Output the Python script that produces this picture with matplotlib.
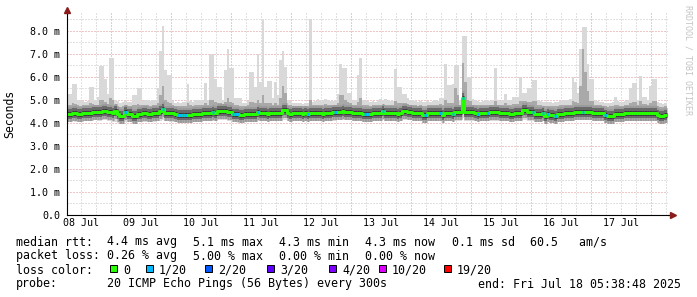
import numpy as np
import matplotlib
matplotlib.use("Agg")
import matplotlib.pyplot as plt
from matplotlib.patches import Rectangle

# hourly smokeping data, first bin starts 08 Jul ~06:15 (x axis in days of July)
start_day = 8.262
end_day = 18.284

# median rtt per hour (ms)
median_ms = [
    4.39, 4.39, 4.42, 4.42, 4.38, 4.38, 4.43, 4.43, 4.45, 4.45, 4.48, 4.48, 4.48, 4.48, 4.53, 4.53, 4.48, 4.48, 4.42, 4.53, 4.38, 4.30, 4.30, 4.48,
    4.40, 4.40, 4.32, 4.32, 4.38, 4.38, 4.42, 4.42, 4.38, 4.38, 4.42, 4.42, 4.45, 4.50, 4.60, 4.45, 4.45, 4.42, 4.42, 4.38, 4.36, 4.36, 4.36, 4.36,
    4.36, 4.36, 4.38, 4.38, 4.40, 4.40, 4.42, 4.42, 4.43, 4.43, 4.46, 4.45, 4.50, 4.50, 4.50, 4.52, 4.48, 4.48, 4.40, 4.40, 4.37, 4.35, 4.35, 4.40,
    4.40, 4.37, 4.37, 4.40, 4.46, 4.42, 4.44, 4.42, 4.40, 4.42, 4.44, 4.42, 4.42, 4.45, 4.57, 4.57, 4.42, 4.40, 4.42, 4.42, 4.44, 4.42, 4.40, 4.42,
    4.38, 4.42, 4.42, 4.44, 4.42, 4.42, 4.40, 4.42, 4.45, 4.45, 4.47, 4.46, 4.49, 4.49, 4.50, 4.49, 4.48, 4.49, 4.42, 4.42, 4.43, 4.42, 4.39, 4.38,
    4.38, 4.39, 4.42, 4.42, 4.44, 4.42, 4.52, 4.45, 4.44, 4.42, 4.42, 4.42, 4.40, 4.42, 4.53, 4.53, 4.49, 4.49, 4.42, 4.42, 4.42, 4.42, 4.35, 4.35,
    4.42, 4.42, 4.42, 4.42, 4.42, 4.44, 4.35, 4.42, 4.42, 4.42, 4.38, 4.46, 4.46, 4.46, 5.07, 4.46, 4.46, 4.46, 4.46, 4.42, 4.39, 4.42, 4.42, 4.42,
    4.44, 4.46, 4.46, 4.46, 4.46, 4.42, 4.44, 4.44, 4.44, 4.39, 4.39, 4.44, 4.44, 4.44, 4.57, 4.57, 4.46, 4.46, 4.46, 4.39, 4.39, 4.39, 4.42, 4.30,
    4.39, 4.35, 4.35, 4.30, 4.39, 4.39, 4.39, 4.44, 4.44, 4.42, 4.42, 4.49, 4.49, 4.49, 4.49, 4.49, 4.49, 4.49, 4.45, 4.45, 4.45, 4.45, 4.42, 4.35,
    4.30, 4.30, 4.30, 4.39, 4.39, 4.39, 4.39, 4.42, 4.42, 4.42, 4.45, 4.45, 4.45, 4.45, 4.45, 4.45, 4.45, 4.45, 4.42, 4.42, 4.35, 4.30, 4.30, 4.35,
]

# lost pings (out of 20) per hour
loss = [
    0, 0, 0, 0, 0, 0, 0, 0, 0, 0, 0, 0, 0, 0, 0, 0, 0, 0, 0, 0, 0, 0, 0, 1,
    0, 0, 0, 0, 0, 0, 0, 0, 0, 0, 0, 0, 0, 0, 1, 0, 0, 0, 0, 0, 1, 1, 1, 1,
    0, 0, 0, 0, 0, 0, 0, 0, 0, 0, 1, 0, 0, 0, 0, 0, 0, 0, 1, 1, 1, 0, 0, 0,
    0, 0, 0, 0, 1, 0, 0, 0, 0, 0, 0, 0, 0, 0, 0, 0, 0, 0, 0, 0, 0, 0, 0, 0,
    1, 0, 0, 0, 0, 0, 0, 0, 0, 0, 0, 1, 0, 0, 0, 0, 0, 0, 0, 0, 0, 0, 0, 1,
    1, 0, 0, 0, 0, 0, 1, 0, 0, 0, 0, 0, 0, 0, 0, 0, 0, 0, 0, 0, 0, 0, 0, 1,
    0, 0, 0, 0, 0, 1, 0, 0, 0, 0, 1, 0, 0, 0, 1, 0, 0, 0, 0, 0, 1, 0, 0, 0,
    1, 0, 0, 0, 0, 0, 0, 0, 0, 0, 0, 0, 0, 0, 0, 0, 0, 0, 1, 0, 0, 0, 1, 0,
    1, 0, 0, 1, 0, 0, 0, 0, 0, 0, 0, 0, 0, 0, 1, 0, 0, 0, 0, 0, 0, 0, 0, 1,
    0, 0, 0, 0, 0, 0, 0, 0, 0, 0, 0, 0, 0, 0, 0, 0, 0, 0, 0, 0, 0, 0, 0, 0,
]

# slowest ping per hour (ms) - top of the smoke
hi_ms = [
    5.26, 5.26, 5.70, 5.70, 5.00, 5.00, 4.95, 4.92, 4.95, 5.57, 5.57, 4.98, 5.15, 6.48, 6.48, 5.90, 5.26, 6.83, 6.83, 5.00, 4.95, 4.88, 4.90, 4.95,
    4.92, 4.90, 5.20, 5.20, 5.50, 5.50, 4.95, 5.02, 5.00, 4.95, 4.98, 5.00, 5.50, 7.13, 8.22, 6.30, 6.10, 6.10, 4.95, 4.85, 4.90, 4.88, 4.90, 4.92,
    5.70, 4.95, 4.92, 4.98, 5.02, 4.98, 5.00, 5.75, 5.02, 7.00, 7.00, 5.90, 5.55, 5.55, 5.00, 6.30, 7.20, 6.40, 6.40, 5.10, 5.10, 5.10, 4.87, 4.87,
    4.95, 6.20, 6.20, 5.55, 7.00, 5.80, 8.48, 5.55, 5.82, 5.82, 5.10, 5.80, 5.20, 6.74, 7.13, 6.43, 5.00, 4.95, 4.85, 4.85, 4.88, 4.85, 4.82, 4.85,
    4.85, 8.52, 4.90, 4.95, 5.05, 4.98, 5.00, 5.05, 5.02, 4.95, 4.95, 5.00, 5.26, 6.55, 6.40, 6.40, 5.30, 5.30, 4.95, 4.98, 6.10, 6.83, 5.00, 4.95,
    4.95, 4.90, 4.95, 4.92, 5.00, 5.05, 5.00, 5.05, 5.00, 4.95, 4.95, 6.35, 5.57, 5.57, 5.27, 5.27, 5.10, 4.98, 5.02, 4.95, 4.92, 4.95, 4.90, 4.92,
    4.95, 4.92, 4.95, 4.98, 4.95, 5.10, 5.10, 6.55, 5.65, 5.65, 5.70, 6.50, 6.50, 5.00, 7.80, 7.80, 6.00, 6.00, 5.05, 4.98, 4.95, 4.92, 4.95, 4.98,
    5.00, 4.95, 4.98, 6.38, 5.00, 4.95, 4.98, 5.28, 5.00, 4.98, 5.15, 5.15, 5.15, 6.00, 5.30, 5.30, 5.50, 5.50, 5.88, 5.88, 5.00, 4.95, 4.92, 4.90,
    4.92, 4.90, 4.88, 4.90, 4.92, 4.95, 4.98, 5.00, 4.98, 5.05, 6.00, 5.80, 5.30, 7.20, 8.17, 8.17, 6.55, 5.90, 5.90, 5.00, 4.95, 4.92, 4.90, 4.88,
    4.85, 4.88, 4.90, 5.15, 4.95, 4.92, 4.90, 4.95, 4.98, 5.50, 5.75, 5.75, 5.00, 6.05, 5.15, 5.15, 4.98, 5.60, 5.90, 5.90, 4.90, 4.85, 4.82, 4.85,
]

# upper edge of the denser smoke (ms)
p90_ms = [
    4.78, 4.80, 4.85, 4.82, 4.76, 4.75, 4.76, 4.78, 4.78, 4.85, 4.82, 4.80, 4.80, 5.00, 5.00, 4.90, 4.82, 5.10, 5.00, 4.80, 4.75, 4.70, 4.72, 4.80,
    4.74, 4.74, 4.80, 4.78, 4.82, 4.80, 4.76, 4.78, 4.76, 4.74, 4.76, 4.78, 4.85, 5.20, 5.60, 5.00, 4.90, 4.85, 4.78, 4.72, 4.72, 4.72, 4.72, 4.74,
    4.85, 4.76, 4.74, 4.76, 4.78, 4.76, 4.78, 4.85, 4.80, 5.00, 5.00, 4.90, 4.85, 4.85, 4.82, 4.90, 5.10, 4.90, 4.85, 4.78, 4.76, 4.74, 4.72, 4.74,
    4.76, 4.90, 4.90, 4.85, 5.00, 4.85, 5.20, 4.85, 4.88, 4.85, 4.80, 4.85, 4.80, 5.10, 5.60, 5.30, 4.80, 4.78, 4.74, 4.74, 4.75, 4.74, 4.72, 4.74,
    4.74, 5.00, 4.76, 4.78, 4.80, 4.78, 4.80, 4.82, 4.80, 4.78, 4.78, 4.80, 4.85, 5.20, 5.20, 5.00, 4.90, 4.88, 4.78, 4.78, 4.90, 5.10, 4.80, 4.76,
    4.76, 4.74, 4.76, 4.76, 4.78, 4.80, 4.80, 4.80, 4.78, 4.76, 4.76, 4.95, 4.85, 4.85, 4.85, 4.85, 4.82, 4.78, 4.80, 4.76, 4.74, 4.76, 4.72, 4.74,
    4.76, 4.76, 4.76, 4.78, 4.76, 4.82, 4.80, 5.00, 4.88, 4.88, 4.88, 5.50, 5.20, 4.80, 6.60, 5.80, 5.00, 4.95, 4.80, 4.78, 4.76, 4.76, 4.76, 4.78,
    4.78, 4.78, 4.78, 4.95, 4.80, 4.76, 4.78, 4.85, 4.80, 4.78, 4.82, 4.82, 4.82, 4.95, 4.95, 4.95, 4.90, 4.90, 4.95, 4.95, 4.80, 4.76, 4.74, 4.72,
    4.74, 4.72, 4.72, 4.72, 4.74, 4.76, 4.78, 4.80, 4.78, 4.80, 4.95, 4.90, 4.85, 5.60, 7.20, 6.20, 5.40, 4.95, 4.95, 4.80, 4.78, 4.76, 4.74, 4.72,
    4.70, 4.72, 4.74, 4.80, 4.76, 4.74, 4.74, 4.76, 4.78, 4.85, 4.90, 4.90, 4.80, 4.95, 4.82, 4.82, 4.78, 4.88, 4.95, 4.95, 4.74, 4.70, 4.70, 4.72,
]

# fastest ping per hour (ms) - bottom of the smoke
lo_ms = [
    4.05, 4.05, 4.08, 4.06, 4.05, 4.04, 4.06, 4.08, 4.08, 4.10, 4.10, 4.12, 4.10, 4.10, 4.12, 4.12, 4.10, 4.08, 4.06, 4.05, 4.02, 4.00, 4.00, 4.04,
    4.05, 4.04, 4.02, 4.02, 4.04, 4.05, 4.06, 4.06, 4.05, 4.04, 4.06, 4.06, 4.08, 4.10, 4.12, 4.10, 4.08, 4.06, 4.05, 4.04, 4.03, 4.02, 4.02, 4.03,
    4.03, 4.04, 4.04, 4.05, 4.06, 4.06, 4.07, 4.08, 4.08, 4.08, 4.10, 4.10, 4.12, 4.12, 4.12, 4.12, 4.10, 4.08, 4.05, 4.04, 4.02, 4.02, 4.03, 4.05,
    4.05, 4.04, 4.04, 4.06, 4.08, 4.08, 4.08, 4.07, 4.06, 4.07, 4.08, 4.07, 4.07, 4.08, 4.15, 4.15, 4.07, 4.06, 4.07, 4.07, 4.08, 4.07, 4.06, 4.07,
    4.04, 4.07, 4.07, 4.08, 4.07, 4.07, 4.06, 4.07, 4.09, 4.09, 4.10, 4.10, 4.12, 4.12, 4.12, 4.12, 4.11, 4.12, 4.07, 4.07, 4.08, 4.07, 4.05, 4.04,
    4.04, 4.05, 4.07, 4.07, 4.08, 4.07, 4.12, 4.09, 4.08, 4.07, 4.07, 4.07, 4.06, 4.07, 4.13, 4.13, 4.11, 4.11, 4.07, 4.07, 4.07, 4.07, 4.02, 4.02,
    4.07, 4.07, 4.07, 4.07, 4.07, 4.08, 4.02, 4.07, 4.07, 4.07, 4.04, 4.10, 4.10, 4.10, 4.20, 4.10, 4.10, 4.10, 4.10, 4.07, 4.05, 4.07, 4.07, 4.07,
    4.08, 4.10, 4.10, 4.10, 4.10, 4.07, 4.08, 4.08, 4.08, 4.05, 4.05, 4.08, 4.08, 4.08, 4.15, 4.15, 4.10, 4.10, 4.10, 4.05, 4.05, 4.05, 4.07, 4.00,
    4.05, 4.02, 4.02, 4.00, 4.05, 4.05, 4.05, 4.08, 4.08, 4.07, 4.07, 4.12, 4.12, 4.12, 4.15, 4.12, 4.12, 4.12, 4.09, 4.09, 4.09, 4.09, 4.07, 4.02,
    4.00, 4.00, 4.00, 4.05, 4.05, 4.05, 4.05, 4.07, 4.07, 4.07, 4.09, 4.09, 4.09, 4.09, 4.09, 4.09, 4.09, 4.09, 4.07, 4.07, 4.02, 4.00, 4.00, 4.02,
]

day_labels = ["08 Jul", "09 Jul", "10 Jul", "11 Jul", "12 Jul", "13 Jul", "14 Jul", "15 Jul", "16 Jul", "17 Jul"]
y_values = [0, 1, 2, 3, 4, 5, 6, 7, 8]
y_labels = ["0.0", "1.0 m", "2.0 m", "3.0 m", "4.0 m", "5.0 m", "6.0 m", "7.0 m", "8.0 m"]

loss_keys = [0, 1, 2, 3, 4, 10, 19]
loss_names = ["0", "1/20", "2/20", "3/20", "4/20", "10/20", "19/20"]
loss_colors = ["#26ff00", "#00b8ff", "#0059ff", "#5e00ff", "#7e00ff", "#dd00ff", "#ff0000"]

rtt_stats = ["4.4 ms avg", "5.1 ms max", "4.3 ms min", "4.3 ms now", "0.1 ms sd", "60.5   am/s"]
loss_stats = ["0.26 % avg", "5.00 % max", "0.00 % min", "0.00 % now"]
probe_text = "20 ICMP Echo Pings (56 Bytes) every 300s"
end_text = "end: Fri Jul 18 05:38:48 2025"

MONO = "DejaVu Sans Mono"
W, H = 697, 297
fig = plt.figure(figsize=(W / 100, H / 100), dpi=100)
fig.patch.set_facecolor("white")
ax = fig.add_axes([66.7 / W, 82 / H, 601.3 / W, 202 / H])
ax.set_xlim(start_day, end_day)
ax.set_ylim(0, 8.78)

n = len(median_ms)
edges = start_day + np.arange(n + 1) / 24.0


def stepped(v):
    v = np.asarray(v, dtype=float)
    return np.append(v, v[-1])


# smoke: light outer spread, denser upper spread, dark core around the median
ax.fill_between(edges, stepped(lo_ms), stepped(hi_ms), step="post", color="#d9d9d9", lw=0, zorder=2)
ax.fill_between(edges, stepped(median_ms), stepped(p90_ms), step="post", color="#a9a9a9", lw=0, zorder=2)
for lw_px, c in [(15, "#9a9a9a"), (10, "#6a6a6a"), (5, "#3a3a3a")]:
    ax.hlines(median_ms, edges[:-1], edges[1:], lw=lw_px * 0.72, colors=c, zorder=3, capstyle="butt")

# median line coloured by loss
ax.step(edges, stepped(median_ms), where="post", lw=3 * 0.72, color=loss_colors[0], zorder=4,
        solid_capstyle="butt")
for i, (m, l) in enumerate(zip(median_ms, loss)):
    if l > 0:
        k = max(j for j, key in enumerate(loss_keys) if key <= l)
        ax.hlines(m, edges[i], edges[i + 1], colors=loss_colors[k], lw=3 * 0.72, zorder=5, capstyle="butt")

# grid
grid_gray = "#c4c4c4"
grid_red = "#e09090"
for q in np.arange(np.ceil(start_day * 4) / 4, end_day, 0.25):
    red = abs(q - round(q)) < 1e-6
    ax.axvline(q, color=grid_red if red else grid_gray, lw=0.72, dashes=(1, 2), zorder=1)
for v in np.arange(0.5, 8.76, 0.5):
    red = abs(v - round(v)) < 1e-6
    ax.axhline(v, color=grid_red if red else grid_gray, lw=0.72, dashes=(1, 2), zorder=1)

# ticks
noons = [int(np.ceil(start_day)) - 1 + 0.5 + k for k in range(len(day_labels))]
ax.set_xticks(noons, day_labels)
ax.set_yticks(y_values, y_labels)
ax.tick_params(length=0, labelsize=7.2, colors="black")
ax.tick_params(axis="y", pad=4.6)
ax.tick_params(axis="x", pad=2.4)
for t in ax.get_xticklabels() + ax.get_yticklabels():
    t.set_family(MONO)

for s in ["top", "right"]:
    ax.spines[s].set_visible(False)
for s in ["left", "bottom"]:
    ax.spines[s].set_color("black")
    ax.spines[s].set_linewidth(0.8)
    ax.spines[s].set_zorder(6)

# axis extensions and arrows
ax.plot([1.0, 1.0 + 5 / 601.3], [0, 0], transform=ax.transAxes, color="black", lw=0.8, clip_on=False, zorder=6)
ax.plot([0, 0], [1.0, 1.0 + 4 / 202], transform=ax.transAxes, color="black", lw=0.8, clip_on=False, zorder=6)
ax.plot([1.0 + 5 / 601.3], [0], transform=ax.transAxes, marker=">", ms=4.5, color="#8b1c1c", clip_on=False, zorder=7)
ax.plot([0], [1.0 + 3 / 202], transform=ax.transAxes, marker="^", ms=4.5, color="#8b1c1c", clip_on=False, zorder=7)

ax.set_ylabel("Seconds", family=MONO, fontsize=8.3)
ax.yaxis.set_label_coords((10 - 66.7) / 601.3, 0.5)
ax.yaxis.label.set_rotation_mode("default")
ax.yaxis.label.set_va("center")


def fx(px):
    return px / W


def fy(py):
    return 1 - py / H


# watermark
fig.text(fx(688), fy(60), "RRDTOOL / TOBI OETIKER", rotation=-90, ha="center", va="center",
         family=MONO, fontsize=6, color="#c4c4c4")

# legend
LEG = dict(family=MONO, fontsize=8.4, color="black", va="baseline", ha="left")
col_x = [107, 193, 279, 365, 451.5, 530]
fig.text(fx(16), fy(245.5), "median rtt:", **LEG)
for x, s in zip(col_x, rtt_stats):
    fig.text(fx(x), fy(245.5), s, **LEG)
fig.text(fx(16), fy(259.5), "packet loss:", **LEG)
for x, s in zip(col_x, loss_stats):
    fig.text(fx(x), fy(259.5), s, **LEG)
fig.text(fx(16), fy(273.5), "loss color:", **LEG)
loss_text_x = [123, 158.5, 218, 280, 342, 392, 457]
for x, name, c in zip(loss_text_x, loss_names, loss_colors):
    fig.patches.append(Rectangle((fx(x - 13), fy(272)), 7 / W, 7 / H, transform=fig.transFigure,
                                 facecolor=c, edgecolor="black", lw=0.7))
    fig.text(fx(x), fy(273.5), name, **LEG)
fig.text(fx(16), fy(287.5), "probe:", **LEG)
fig.text(fx(107), fy(287.5), probe_text, **LEG)
fig.text(fx(478), fy(287.5), end_text, **LEG)

fig.savefig("out.png", dpi=100, facecolor="white")
